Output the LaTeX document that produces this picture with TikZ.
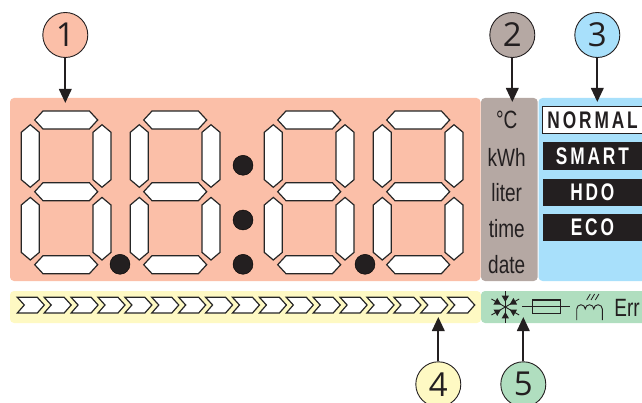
\documentclass[tikz,border=0pt]{standalone}
\usepackage{fontspec}
\usepackage{tikz}
\usetikzlibrary{arrows.meta}
\setmainfont{Liberation Sans}
\newfontfamily\condfont[FakeStretch=0.76]{Liberation Sans}
\newfontfamily\modefont[FakeStretch=0.72]{Liberation Sans}
\newfontfamily\callfont{Open Sans}
\definecolor{inkdark}{HTML}{231F20}
\definecolor{panelred}{HTML}{FBBFA8}
\definecolor{panelgrey}{HTML}{B5A8A3}
\definecolor{panelblue}{HTML}{A8E0FB}
\definecolor{panelyellow}{HTML}{FEF9C3}
\definecolor{panelgreen}{HTML}{B0DEBF}
\tikzset{
    callout/.style={circle, draw=inkdark, line width=0.9pt, minimum size=45pt, inner sep=0pt, text=inkdark, font=\callfont\fontsize{33}{33}\selectfont},
    pointer/.style={-{Triangle[length=14pt,width=12.5pt]}, line width=2pt, inkdark},
    segment/.style={fill=white, draw=black!85, line width=1.2pt, line join=miter},
    unitlabel/.style={text=inkdark, font=\condfont\fontsize{25}{25}\selectfont, inner sep=0pt},
    modebox/.style={fill=inkdark, text=white, minimum width=99.7pt, minimum height=27.5pt, inner sep=0pt, anchor=west, font=\modefont\bfseries\fontsize{24}{24}\selectfont\addfontfeature{LetterSpace=12}},
    dot/.style={fill=inkdark}
}
\newcommand{\lcddigit}[1]{
    \begin{scope}[xshift=#1pt]
        \foreach \yseg in {120,191.7,264.7}
            \filldraw[segment] (34.7,\yseg) -- (43,\yseg-9) -- (89.4,\yseg-9) -- (97.7,\yseg) -- (89.4,\yseg+9) -- (43,\yseg+9) -- cycle;
        \foreach \xseg in {30.3,102}
            \foreach \yseg in {156,228.7}
                \filldraw[segment] (\xseg,\yseg-31.3) -- (\xseg+9,\yseg-23.7) -- (\xseg+9,\yseg+23.7) -- (\xseg,\yseg+31.3) -- (\xseg-9,\yseg+23.7) -- (\xseg-9,\yseg-23.7) -- cycle;
    \end{scope}
}
\begin{document}
\begin{tikzpicture}[x=1pt,y=-1pt]
        \useasboundingbox (0,0) rectangle (642,403);

        % panels
        \fill[panelred, rounded corners=4pt] (10,98) rectangle (480.5,281);
        \fill[panelgrey, rounded corners=4pt] (481,98) rectangle (537.7,281);
        \fill[panelblue, rounded corners=4pt] (642,98) -- (538.5,98) -- (538.5,281) -- (642,281);
        \fill[panelyellow, rounded corners=4pt] (10,291) rectangle (481,323);
        \fill[panelgreen, rounded corners=4pt] (642,291) -- (481,291) -- (481,323) -- (642,323);

        % digits
        \lcddigit{0}
        \lcddigit{109}
        \lcddigit{243}
        \lcddigit{352}

        \filldraw[dot] (120,264.3) circle (10pt);
        \filldraw[dot] (243,165.3) circle (10pt);
        \filldraw[dot] (243,220) circle (10pt);
        \filldraw[dot] (243,264.3) circle (10pt);
        \filldraw[dot] (365,264.3) circle (10pt);

        % units
        \node[unitlabel] (unitC) at (506.7,119.5) {°C};
        \node[unitlabel] (unitkWh) at (506.7,157) {kWh};
        \node[unitlabel] (unitliter) at (506.7,193) {liter};
        \node[unitlabel] (unittime) at (506.7,229) {time};
        \node[unitlabel] (unitdate) at (506.7,265) {date};

        % modes
        \node[modebox, fill=white, text=inkdark, draw=inkdark, line width=0.9pt] (modenormal) at (542.3,120) {NORMAL};
        \node[modebox] (modesmart) at (542.3,156.2) {SMART};
        \node[modebox] (modehdo) at (542.3,192.4) {HDO};
        \node[modebox] (modeeco) at (542.3,227.6) {ECO};

        % bar
        \foreach \i in {0,...,16}
            \filldraw[segment, xshift=\i*26.9pt] (17.3,297.3) -- (37.3,297.3) -- (44.3,305) -- (37.3,313) -- (17.3,313) -- (24.3,305) -- cycle;

        % snowflake
        \foreach \ang in {30,90,150,210,270,330} {
            \draw[inkdark, line width=0.9pt] (505.3,307) -- ++(\ang:16);
            \fill[inkdark] (505.3,307) ++(\ang:5) -- ++(\ang+30:7.5) -- ++(\ang-90:7.5) -- cycle;
        }

        % fuse
        \draw[inkdark, line width=1.2pt] (522.3,306.7) -- (570,306.7);
        \draw[inkdark, line width=1.1pt] (532.7,300) rectangle (560.7,313.3);

        % heater
        \draw[inkdark, line width=0.9pt] (576.7,320) -- (576.7,309) arc (180:360:4.27) arc (180:360:4.27) arc (180:360:4.27) -- (602.3,320);
        \foreach \i in {0,1,2}
            \draw[inkdark, line width=0.8pt] (586.7+\i*4.3,300) -- (590.3+\i*4.3,294);

        \node[unitlabel] (errlabel) at (627,307.5) {Err};

        % callouts
        \node[callout, fill=panelred] (c1) at (65.3,35) {1};
        \node[callout, fill=panelgrey] (c2) at (512.3,35) {2};
        \node[callout, fill=panelblue] (c3) at (597.3,35) {3};
        \node[callout, fill=panelyellow] (c4) at (438.3,384.3) {4};
        \node[callout, fill=panelgreen] (c5) at (523.3,384.3) {5};

        \coordinate (t1) at (65.3,103);
        \coordinate (t2) at (512.3,102);
        \coordinate (t3) at (597.3,102);
        \coordinate (t4) at (438.3,317);
        \coordinate (t5) at (523.3,317);

        \draw[pointer] (c1) -- (t1);
        \draw[pointer] (c2) -- (t2);
        \draw[pointer] (c3) -- (t3);
        \draw[pointer] (c4) -- (t4);
        \draw[pointer] (c5) -- (t5);
    \end{tikzpicture}
\end{document}
